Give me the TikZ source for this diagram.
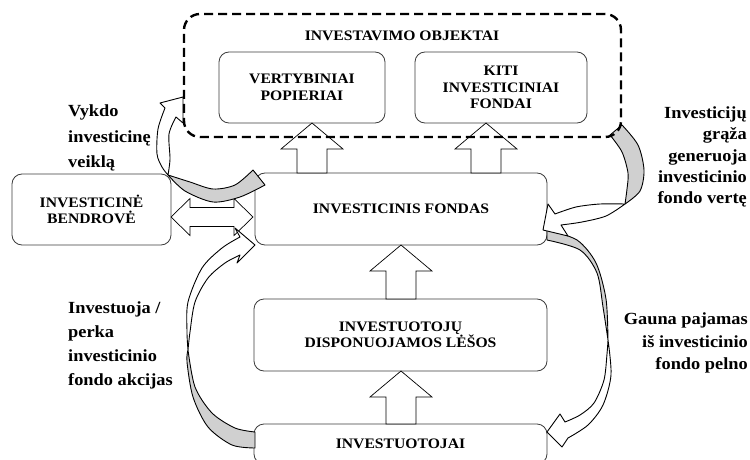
\documentclass[tikz,border=0pt]{standalone}
\usepackage{fontspec}
\setmainfont{Liberation Serif}[FakeStretch=1.08]
\usetikzlibrary{calc}
\definecolor{bandgray}{RGB}{208,208,208}
\definecolor{boxline}{RGB}{60,60,60}

\begin{document}
\begin{tikzpicture}[x=1pt,y=1pt,
  box/.style={draw=boxline, line width=0.8pt, rounded corners=10pt, fill=white,
    align=center, inner sep=0pt, outer sep=0pt, font=\fontsize{14.5}{16.5}\selectfont\bfseries},
  dashbox/.style={draw, line width=2.4pt, dash pattern=on 9pt off 5pt, rounded corners=16pt,
    inner sep=0pt, outer sep=0pt},
  lbl/.style={inner sep=0pt, font=\fontsize{17}{#1}\selectfont\bfseries},
  blk/.style={draw=black, line width=0.7pt, fill=white},
  curvarr/.style={draw=black, line width=0.9pt, fill=white, line join=round},
  curvback/.style={curvarr, fill=bandgray}]

  \useasboundingbox (0,0) rectangle (750,459);
  \clip (0,0) rectangle (750,459);

  \def\blkup#1#2#3{\draw[blk] let \p1=(#2.north), \p2=(#3.south) in
    (#1pt-15pt,\y1) -- (#1pt-15pt,\y2-26pt) -- (#1pt-31pt,\y2-26pt) -- (#1pt,\y2)
    -- (#1pt+31pt,\y2-26pt) -- (#1pt+15pt,\y2-26pt) -- (#1pt+15pt,\y1) -- cycle;}

  % boxes
  \node[box, minimum width=166pt, minimum height=71pt] (vert) at (302,371.5) {VERTYBINIAI\\POPIERIAI};
  \node[box, minimum width=172pt, minimum height=71pt] (kiti) at (501,371.5) {KITI\\INVESTICINIAI\\FONDAI};
  \node[box, minimum width=292pt, minimum height=72pt] (fondas) at (401,250) {INVESTICINIS FONDAS};
  \node[box, minimum width=159pt, minimum height=71pt] (bendrove) at (91.5,249.5) {INVESTICINĖ\\BENDROVĖ};
  \node[box, minimum width=293pt, minimum height=72pt] (disp) at (400.5,124) {INVESTUOTOJŲ\\DISPONUOJAMOS LĖŠOS};
  \node[box, minimum width=293pt, minimum height=40pt, anchor=north] (inv) at (400.5,35) {INVESTUOTOJAI};

  \foreach \xx/\from/\to in {312/fondas/vert, 486/fondas/kiti, 401/disp/fondas, 401/inv/disp}
    {\blkup{\xx}{\from}{\to}}

  \draw[blk] let \p1=(bendrove.east), \p2=(fondas.west) in
    (\x1,242pt) -- (\x1+19pt,260.5pt) -- (\x1+19pt,251.5pt) -- (\x2-21pt,251.5pt) -- (\x2-21pt,260.5pt)
    -- (\x2-2pt,242pt) -- (\x2-21pt,223.5pt) -- (\x2-21pt,232.5pt) -- (\x1+19pt,232.5pt)
    -- (\x1+19pt,223.5pt) -- cycle;

  % gauna pajamas
  \draw[curvback] plot[smooth] coordinates {(547,229) (577,219) (596,196) (606,160) (608,119)}
    -- plot[smooth] coordinates {(608,119) (603,152) (597,186) (580,209) (547,219)} -- cycle;
  \draw[curvarr] plot[smooth] coordinates {(608,119) (611,84) (603,54) (588,34) (568,21)}
    -- (562,12) -- (547,27) -- (560,45) -- (565,37)
    -- plot[smooth] coordinates {(565,37) (580,44) (594,56) (604,79) (607,105) (608,119)} -- cycle;

  % investiciju graza
  \draw[curvback] plot[smooth] coordinates {(622,334) (638,314) (644,289) (640,268) (625,255)}
    -- plot[smooth] coordinates {(625,255) (627,270) (628,286) (622,307) (610,324)} -- cycle;
  \draw[curvarr] plot[smooth] coordinates {(625,255) (600,255) (576,252) (555,245)}
    -- (548,255) -- (543,229) -- (568,223) -- (561,234)
    -- plot[smooth] coordinates {(561,234) (582,237) (606,243) (625,255)} -- cycle;

  % vykdo
  \draw[curvback] plot[smooth] coordinates {(168,284) (185,268) (213,257) (240,262) (265,274)}
    -- (253,289) -- plot[smooth] coordinates {(253,289) (235,274) (213,270) (190,277) (168,284)} -- cycle;
  \draw[curvarr] plot[smooth] coordinates {(165,351) (158,330) (157,305) (162,292) (168,284)}
    -- plot[smooth] coordinates {(168,284) (170,300) (169,325) (176,342)}
    -- (183,336) -- (183,362) -- (160,356) -- cycle;

  % investuoja
  \draw[curvback] plot[smooth] coordinates {(188,109) (195,72) (212,46) (235,31) (255,27)}
    -- (255,11) -- plot[smooth] coordinates {(255,11) (232,14) (208,32) (193,62) (187,97) (188,109)} -- cycle;
  \draw[curvarr] plot[smooth] coordinates {(188,109) (187,127) (188,157) (202,191) (222,211) (240,222)}
    -- (235,231) -- (255,214) -- (237,196) -- (240,204)
    -- plot[smooth] coordinates {(240,204) (225,196) (208,181) (195,157) (190,127) (188,109)} -- cycle;

  \node[dashbox, minimum width=437pt, minimum height=123pt] (objektai) at (402.5,383.5) {};
  \node[font=\fontsize{14.5}{16.5}\selectfont\bfseries] (objtitle) at (402,423) {INVESTAVIMO OBJEKTAI};

  % labels
  \node[lbl=25.5, anchor=west, align=left] (vykdo) at (68,321) {Vykdo\\investicinę\\veiklą};
  \node[lbl=21.3, anchor=east, align=right] (graza) at (747,302) {Investicijų\\grąža\\generuoja\\investicinio\\fondo vertę};
  \node[lbl=24, anchor=west, align=left] (perka) at (68,114) {Investuoja /\\perka\\investicinio\\fondo akcijas};
  \node[lbl=22.5, anchor=east, align=right] (pelno) at (748,116) {Gauna pajamas\\iš investicinio\\fondo pelno};
\end{tikzpicture}
\end{document}
